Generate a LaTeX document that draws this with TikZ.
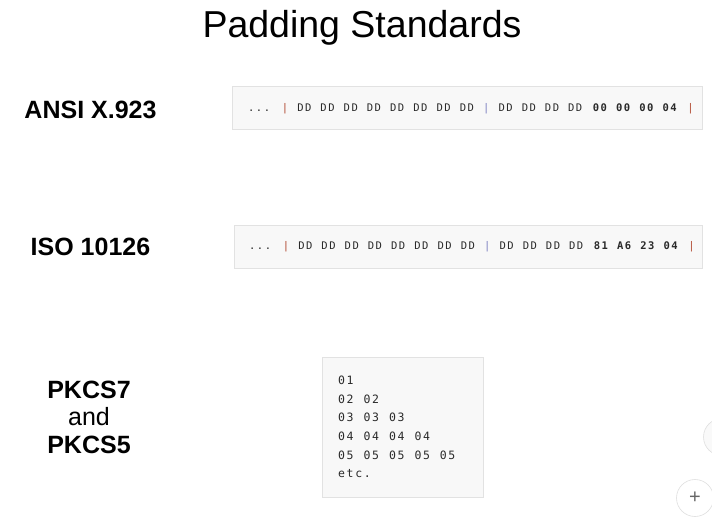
\documentclass[tikz,border=0pt]{standalone}
\usepackage{fontspec}
\setmainfont{Liberation Sans}
\newfontfamily\codefont[LetterSpace=14, WordSpace={1.17,0,0}]{DejaVu Sans Mono}
\usetikzlibrary{positioning}

\definecolor{boxfill}{HTML}{F8F8F8}
\definecolor{boxline}{HTML}{E2E2E2}
\definecolor{pipered}{HTML}{B0472F}
\definecolor{pipeblue}{HTML}{7B7FC0}
\definecolor{codegray}{HTML}{2A2A2A}

\newcommand{\redpipe}{\textcolor{pipered}{|}}
\newcommand{\bluepipe}{\textcolor{pipeblue}{|}}

\begin{document}
\begin{tikzpicture}[
    x=1pt, y=-1pt,
    codebox/.style={draw=boxline, fill=boxfill, line width=0.8pt, anchor=north west, inner sep=0pt},
    stdname/.style={font=\fontsize{25}{30}\selectfont\bfseries, anchor=base},
    bytes/.style={font=\codefont\fontsize{10.5}{12}\selectfont, text=codegray, anchor=base west, inner sep=0pt},
    padline/.style={font=\codefont\fontsize{11.5}{13}\selectfont, text=codegray, anchor=base west, inner sep=0pt},
    uibtn/.style={circle, draw=gray!25, line width=0.6pt, minimum size=37pt, inner sep=0pt}
]
    \useasboundingbox[fill=white] (0,0) rectangle (712,521);

    % Titre
    \node[font=\fontsize{37.5}{40}\selectfont, anchor=base] (title) at (362,38) {Padding Standards};

    % Noms des standards
    \node[stdname] (ansi) at (90.5,119) {ANSI X.923};
    \node[stdname] (iso) at (90.5,256) {ISO 10126};
    \node[stdname] (pkcs7) at (89,398) {PKCS7};
    \node[stdname, font=\fontsize{25}{30}\selectfont] (and) at (89,425) {and};
    \node[stdname] (pkcs5) at (89,453) {PKCS5};

    % Blocs de code
    \node[codebox, minimum width=470pt, minimum height=43pt] (ansibox) at (232,86) {};
    \node[codebox, minimum width=468pt, minimum height=43pt] (isobox) at (234,225) {};
    \node[codebox, minimum width=161pt, minimum height=140pt] (pkcsbox) at (322,357) {};

    % ANSI X.923 : zéros puis longueur
    \node[bytes] (ansibytes) at (248,112)
        {... \redpipe{} DD DD DD DD DD DD DD DD \bluepipe{} DD DD DD DD \textbf{00 00 00 04} \redpipe};

    % ISO 10126 : octets aléatoires puis longueur
    \node[bytes] (isobytes) at (249,250)
        {... \redpipe{} DD DD DD DD DD DD DD DD \bluepipe{} DD DD DD DD \textbf{81 A6 23 04} \redpipe};

    % PKCS : n octets de valeur n
    \foreach \row [count=\i] in {01, 02 02, 03 03 03, 04 04 04 04, 05 05 05 05 05, etc.}
        \node[padline] (padrow\i) at (338,366+18.6*\i) {\row};

    % Boutons de l'interface
    \node[uibtn, fill=gray!5] (sidebtn) at (722,437) {};
    \node[uibtn, fill=white, text=gray!80!black, font=\fontsize{20}{20}\selectfont] (addbtn) at (695,498) {+};

\end{tikzpicture}
\end{document}
